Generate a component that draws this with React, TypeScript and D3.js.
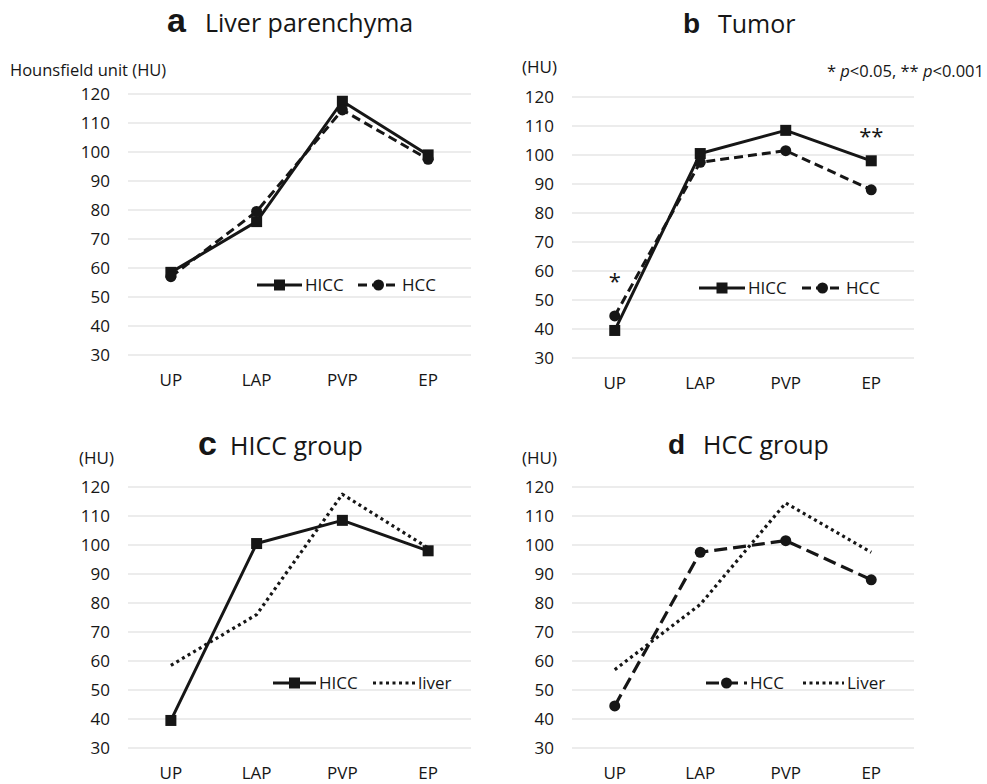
import React, { useEffect, useRef } from "react";
import * as d3 from "d3";

const categories = ["UP", "LAP", "PVP", "EP"];
const yTicks = [30, 40, 50, 60, 70, 80, 90, 100, 110, 120];

// liver parenchyma values
const liverHicc = [58.5, 76, 117.5, 99];
const liverHcc = [57, 79.5, 114.5, 97.5];
// tumor values
const tumorHicc = [39.5, 100.5, 108.5, 98];
const tumorHcc = [44.5, 97.5, 101.5, 88];

const ink = "#161616";
const font = "'Open Sans', sans-serif";

const styles = {
  solid: { dash: null, marker: "square", width: 3 },
  dash: { dash: "9,5", marker: "circle", width: 3 },
  longDash: { dash: "13,6", marker: "circle", width: 3.2 },
  dot: { dash: "3,3.5", marker: null, width: 3.2 },
};

const panels = [
  {
    letter: "a", letterSize: 34, letterX: 167, titleX: 205, titleY: 32,
    title: "Liver parenchyma",
    yLabel: "Hounsfield unit (HU)", yLabelX: 10, yLabelY: 76,
    x0: 128, x1: 471, yTop: 94, yBottom: 355,
    series: [
      { name: "HICC", values: liverHicc, style: "solid", lx: 257, lw: 45 },
      { name: "HCC", values: liverHcc, style: "dash", lx: 358, lw: 41 },
    ],
    legendY: 285,
  },
  {
    letter: "b", letterSize: 28, letterX: 683, titleX: 718, titleY: 33,
    title: "Tumor",
    yLabel: "(HU)", yLabelX: 522, yLabelY: 73,
    x0: 572, x1: 914, yTop: 97, yBottom: 358,
    series: [
      { name: "HICC", values: tumorHicc, style: "solid", lx: 699, lw: 46 },
      { name: "HCC", values: tumorHcc, style: "dash", lx: 802, lw: 41 },
    ],
    legendY: 288,
    stars: [
      { cat: "UP", value: 58.5, text: "*" },
      { cat: "EP", value: 108.5, text: "**" },
    ],
  },
  {
    letter: "c", letterSize: 34, letterX: 198, titleX: 230, titleY: 455,
    title: "HICC group",
    yLabel: "(HU)", yLabelX: 79, yLabelY: 464,
    x0: 128, x1: 471, yTop: 487, yBottom: 748,
    series: [
      { name: "liver", values: liverHicc, style: "dot", lx: 373, lw: 42 },
      { name: "HICC", values: tumorHicc, style: "solid", lx: 273, lw: 43 },
    ],
    legendY: 683,
  },
  {
    letter: "d", letterSize: 28, letterX: 668, titleX: 703, titleY: 454,
    title: "HCC group",
    yLabel: "(HU)", yLabelX: 522, yLabelY: 464,
    x0: 572, x1: 914, yTop: 487, yBottom: 748,
    series: [
      { name: "Liver", values: liverHcc, style: "dot", lx: 803, lw: 41 },
      { name: "HCC", values: tumorHcc, style: "longDash", lx: 706, lw: 41 },
    ],
    legendY: 683,
  },
];

function drawMarker(g, type, x, y) {
  if (type === "square") {
    g.append("rect")
      .attr("x", x - 5.5)
      .attr("y", y - 5.5)
      .attr("width", 11)
      .attr("height", 11)
      .attr("fill", ink);
  } else if (type === "circle") {
    g.append("circle").attr("cx", x).attr("cy", y).attr("r", 5.5).attr("fill", ink);
  }
}

const App = () => {
  const ref = useRef(null);

  useEffect(() => {
    const svg = d3.select(ref.current);
    svg.selectAll("*").remove();

    panels.forEach((p) => {
      const g = svg.append("g");
      const x = d3.scalePoint().domain(categories).range([p.x0, p.x1]).padding(0.5);
      const y = d3.scaleLinear().domain([30, 120]).range([p.yBottom, p.yTop]);

      // gridlines
      g.selectAll(".grid")
        .data(yTicks)
        .enter()
        .append("line")
        .attr("x1", p.x0)
        .attr("x2", p.x1)
        .attr("y1", (d) => y(d))
        .attr("y2", (d) => y(d))
        .attr("stroke", "#d9d9d9")
        .attr("stroke-width", 1.2);

      // y tick labels
      g.selectAll(".ytick")
        .data(yTicks)
        .enter()
        .append("text")
        .attr("x", p.x0 - 18)
        .attr("y", (d) => y(d))
        .attr("dy", "0.36em")
        .attr("text-anchor", "end")
        .attr("font-family", font)
        .attr("font-size", 17)
        .attr("fill", ink)
        .text((d) => d);

      // x labels
      g.selectAll(".xtick")
        .data(categories)
        .enter()
        .append("text")
        .attr("x", (d) => x(d))
        .attr("y", p.yBottom + 25)
        .attr("dy", "0.36em")
        .attr("text-anchor", "middle")
        .attr("font-family", font)
        .attr("font-size", 17)
        .attr("fill", ink)
        .text((d) => d);

      // axis title
      g.append("text")
        .attr("x", p.yLabelX)
        .attr("y", p.yLabelY)
        .attr("font-family", font)
        .attr("font-size", p.yLabel.length > 5 ? 16.5 : 17)
        .attr("fill", ink)
        .text(p.yLabel);

      // panel title
      g.append("text")
        .attr("x", p.letterX)
        .attr("y", p.titleY)
        .attr("font-family", "'Liberation Sans', Arial, sans-serif")
        .attr("font-weight", "bold")
        .attr("font-size", p.letterSize)
        .attr("fill", ink)
        .text(p.letter);
      g.append("text")
        .attr("x", p.titleX)
        .attr("y", p.titleY)
        .attr("font-family", font)
        .attr("font-size", 25)
        .attr("fill", ink)
        .text(p.title);

      // series lines
      p.series.forEach((s) => {
        const st = styles[s.style];
        const line = d3
          .line()
          .x((_, i) => x(categories[i]))
          .y((d) => y(d));
        g.append("path")
          .attr("d", line(s.values))
          .attr("fill", "none")
          .attr("stroke", ink)
          .attr("stroke-width", st.width)
          .attr("stroke-dasharray", st.dash)
          .attr("stroke-linejoin", "round");
        s.values.forEach((v, i) => drawMarker(g, st.marker, x(categories[i]), y(v)));

        // legend entry
        g.append("line")
          .attr("x1", s.lx)
          .attr("x2", s.lx + s.lw)
          .attr("y1", p.legendY)
          .attr("y2", p.legendY)
          .attr("stroke", ink)
          .attr("stroke-width", st.width)
          .attr("stroke-dasharray", st.dash);
        drawMarker(g, st.marker, s.lx + s.lw / 2, p.legendY);
        g.append("text")
          .attr("x", s.lx + s.lw + 3)
          .attr("y", p.legendY)
          .attr("dy", "0.36em")
          .attr("font-family", font)
          .attr("font-size", 17)
          .attr("fill", ink)
          .text(s.name);
      });

      // significance marks
      (p.stars || []).forEach((m) => {
        g.append("text")
          .attr("x", x(m.cat))
          .attr("y", y(m.value))
          .attr("dy", "0.6em")
          .attr("text-anchor", "middle")
          .attr("font-family", font)
          .attr("font-size", 22)
          .attr("fill", ink)
          .text(m.text);
      });
    });

    // p-value note
    const note = svg
      .append("text")
      .attr("x", 984)
      .attr("y", 77)
      .attr("text-anchor", "end")
      .attr("font-family", font)
      .attr("font-size", 16.5)
      .attr("fill", ink);
    note.append("tspan").text("* ");
    note.append("tspan").attr("font-style", "italic").text("p");
    note.append("tspan").text("<0.05, ** ");
    note.append("tspan").attr("font-style", "italic").text("p");
    note.append("tspan").text("<0.001");
  }, []);

  return (
    <svg
      ref={ref}
      width={987}
      height={784}
      style={{ position: "absolute", left: 0, top: 0, background: "#fff" }}
    />
  );
};

export default App;
